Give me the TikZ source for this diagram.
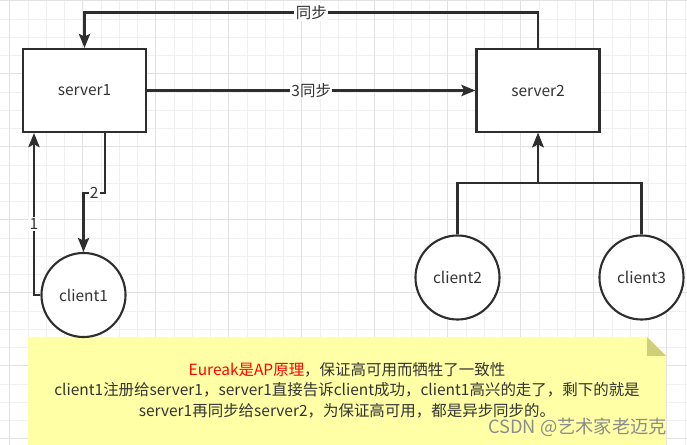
\documentclass[tikz,border=0pt]{standalone}
\usepackage{fontspec}
\setmainfont{Noto Sans CJK SC}
\usepackage{xcolor}
\usepackage{tikz}
\usetikzlibrary{arrows.meta, positioning, calc}
\definecolor{gridminor}{HTML}{F0F0F0}
\definecolor{gridmajor}{HTML}{E2E2E2}
\definecolor{edgeline}{HTML}{2E2E2E}
\definecolor{labeltext}{HTML}{333333}
\definecolor{notefill}{HTML}{FFFFA6}
\definecolor{notefold}{HTML}{CFCF7A}
\definecolor{notered}{HTML}{FF0000}

\begin{document}
\begin{tikzpicture}[
    x=0.025cm, y=-0.025cm,
    server/.style={
        draw=edgeline, fill=white, line width=1.5pt,
        minimum width=3.075cm, minimum height=2.075cm,
        font=\fontsize{11}{13}\selectfont, text=labeltext
    },
    client/.style={
        draw=edgeline, fill=white, line width=1.5pt,
        circle, minimum size=2.1cm, inner sep=0pt,
        font=\fontsize{11}{13}\selectfont, text=labeltext
    },
    arrow/.style={-{Stealth[length=10pt, width=8pt, inset=2pt]}, line width=1.7pt, draw=edgeline},
    edgelabel/.style={fill=white, inner sep=1pt, font=\fontsize{11}{13}\selectfont, text=labeltext},
    gridline/.style={draw=gridminor, line width=0.6pt},
    gridbold/.style={draw=gridmajor, line width=0.8pt},
    notetext/.style={align=center, font=\fontsize{11}{14.5}\selectfont, text=labeltext},
    watermark/.style={font=\fontsize{13}{15}\selectfont, text=black!45}
]
\useasboundingbox (0,0) rectangle (687,445);

% Grid
\foreach \gx in {0,...,37} \draw[gridline] (9.7+\gx*18.25,0) -- (9.7+\gx*18.25,445);
\foreach \gy in {0,...,24} \draw[gridline] (0,0.7+\gy*18.25) -- (687,0.7+\gy*18.25);
\foreach \gx in {0,...,9} \draw[gridbold] (9.7+\gx*73,0) -- (9.7+\gx*73,445);
\foreach \gy in {0,...,6} \draw[gridbold] (0,0.7+\gy*73) -- (687,0.7+\gy*73);

% Note
\fill[notefill] (28,337) -- (647,337) -- (666,356) -- (666,445) -- (28,445) -- cycle;
\fill[notefold] (647,337) -- (666,356) -- (647,356) -- cycle;
\node[notetext] (note) at (347,390) {\textcolor{notered}{Eureak是AP原理}，保证高可用而牺牲了一致性\\client1注册给server1，server1直接告诉client成功，client1高兴的走了，剩下的就是\\server1再同步给server2，为保证高可用，都是异步同步的。};

% Servers
\node[server] (server1) at (84.5,90.5) {server1};
\node[server] (server2) at (538,90.5) {server2};

% Clients
\node[client] (client1) at (83.5,295) {client1};
\node[client] (client2) at (457.5,277.5) {client2};
\node[client] (client3) at (641.5,277.5) {client3};
\coordinate (join) at (538,183);

% Arrows: server to server
\draw[arrow] (server2.north) -- ++(0,-35.5) -| node[edgelabel, pos=0.25] {同步} (server1.north);
\draw[arrow] (server1) -- node[edgelabel] {3同步} (server2);

% Arrows: client1 and server1
\draw[arrow] ([xshift=0.5125cm]server1.south) -- ++(0,60) -| node[edgelabel, pos=0.25] {2} (client1.north);
\draw[arrow] (client1.west) -| node[edgelabel, pos=0.72] {1} ([xshift=-1.2625cm]server1.south);

% Arrows: client2, client3 to server2
\draw[arrow] (client2.north) |- (join) -- (server2.south);
\draw[arrow] (client3.north) |- (join) -- (server2.south);

% Watermark
\node[watermark, anchor=east] (csdn) at (672,427) {CSDN @艺术家老迈克};

\end{tikzpicture}
\end{document}
